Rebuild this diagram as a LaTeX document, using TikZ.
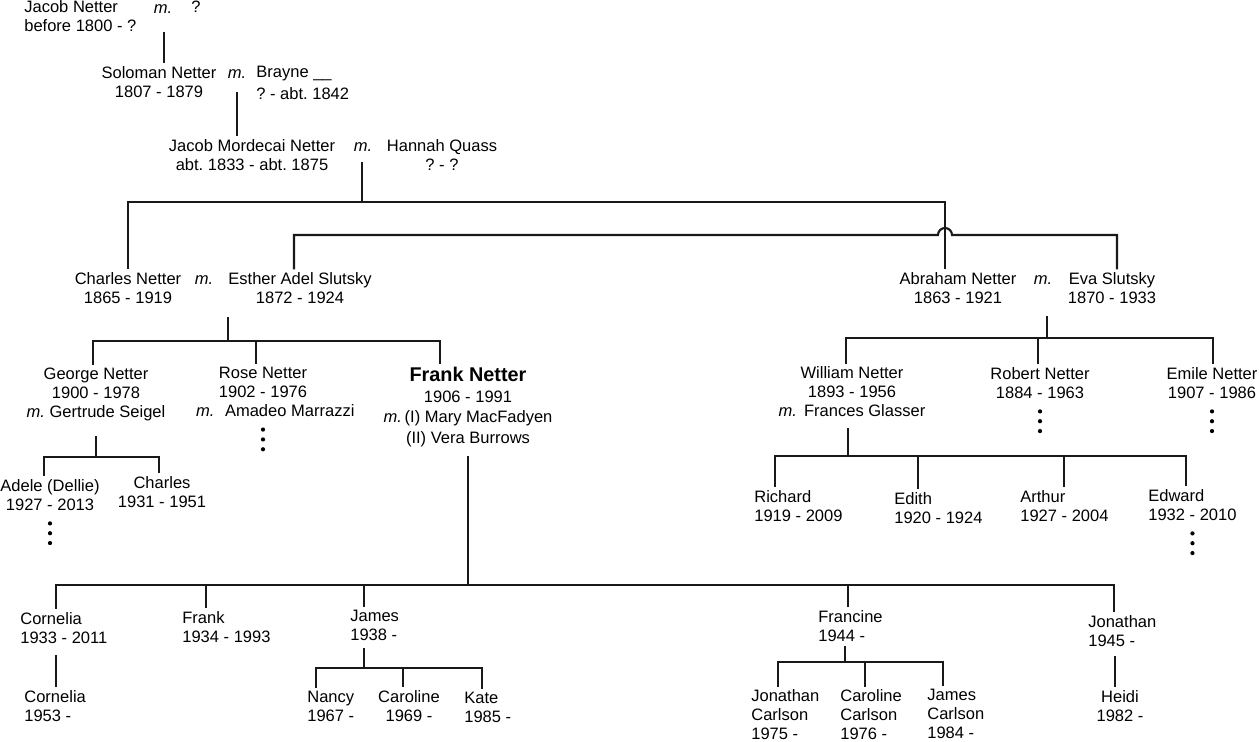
\documentclass[tikz,border=0pt]{standalone}
\usepackage{fontspec}
\setmainfont{Liberation Sans}
\frenchspacing

\begin{document}
\begin{tikzpicture}[
  x=0.2mm,y=-0.2mm,
  person/.style={inner sep=1.5pt, align=center, font=\fontsize{9.4}{10.8}\selectfont},
  lperson/.style={person, align=left, anchor=west, xshift=-1.5pt},
  wed/.style={inner sep=1pt, font=\fontsize{9.4}{10.8}\selectfont\itshape},
  link/.style={line width=1.2pt, draw=black!90}
]
\useasboundingbox (0,0) rectangle (1259,741);

% first three generations
\node[lperson] (jacob) at (24,16) {Jacob Netter\\before 1800 - ?};
\node[wed] (m1) at (163,9) {m.};
\node[person] (unknown) at (196,7) {?};
\node[person] (soloman) at (159,82) {Soloman Netter\\1807 - 1879};
\node[wed] (m2) at (237,74) {m.};
\node[lperson] (brayne) at (256,83) {Brayne \_\_\\[2pt]? - abt. 1842};
\node[person] (jmn) at (252,155) {Jacob Mordecai Netter\\abt. 1833 - abt. 1875};
\node[wed] (m3) at (363,147) {m.};
\node[person] (hannah) at (442,155) {Hannah Quass\\? - ?};

% the two brothers
\node[person] (charles) at (128,288) {Charles Netter\\1865 - 1919};
\node[wed] (m4) at (204,280) {m.};
\node[person] (esther) at (300,288) {Esther Adel Slutsky\\1872 - 1924};
\node[person] (abraham) at (958,288) {Abraham Netter\\1863 - 1921};
\node[wed] (m5) at (1043,280) {m.};
\node[person] (eva) at (1112,288) {Eva Slutsky\\1870 - 1933};

% children of Charles and Esther
\node[person] (george) at (96,394) {George Netter\\1900 - 1978\\\textit{m.} Gertrude Seigel};
\node[person] (rose) at (263,392) {Rose Netter\\1902 - 1976\\\hspace*{14pt}\textit{m.}\hspace{6pt}Amadeo Marrazzi};
\node[person] (frank) at (468,407) {{\fontsize{11.3}{13}\selectfont\bfseries Frank Netter}\\[1pt]1906 - 1991\\[1pt]\textit{m.}\,(I) Mary MacFadyen\\[1pt](II) Vera Burrows};
\node[person] (adele) at (50,495) {Adele (Dellie)\\1927 - 2013};
\node[person] (charlesjr) at (162,492) {Charles\\1931 - 1951};

% children of Abraham and Eva
\node[person] (william) at (852,392) {William Netter\\1893 - 1956\\\textit{m.}\hspace{4pt}Frances Glasser};
\node[person] (robert) at (1040,383) {Robert Netter\\1884 - 1963};
\node[person] (emile) at (1212,383) {Emile Netter\\1907 - 1986};
\node[lperson] (richard) at (754,506) {Richard\\1919 - 2009};
\node[lperson] (edith) at (894,508) {Edith\\1920 - 1924};
\node[lperson] (arthur) at (1020,506) {Arthur\\1927 - 2004};
\node[lperson] (edward) at (1148,505) {Edward\\1932 - 2010};

% children of Frank
\node[lperson] (cornelia) at (20,628) {Cornelia\\1933 - 2011};
\node[lperson] (frankjr) at (182,627) {Frank\\1934 - 1993};
\node[lperson] (james) at (350,625) {James\\1938 -};
\node[lperson] (francine) at (818,626) {Francine\\1944 -};
\node[lperson] (jonathan) at (1088,631) {Jonathan\\1945 -};

% grandchildren of Frank
\node[lperson] (cornelia2) at (24,706) {Cornelia\\1953 -};
\node[lperson] (nancy) at (307,706) {Nancy\\1967 -};
\node[person] (caroline) at (409,706) {Caroline\\1969 -};
\node[lperson] (kate) at (464,707) {Kate\\1985 -};
\node[lperson] (jcarlson) at (751,715) {Jonathan\\Carlson\\1975 -};
\node[lperson] (ccarlson) at (840,715) {Caroline\\Carlson\\1976 -};
\node[lperson] (jacarlson) at (927,714) {James\\Carlson\\1984 -};
\node[person] (heidi) at (1120,706) {Heidi\\1982 -};

% drop points below each couple
\coordinate (d1) at (164,32);
\coordinate (d2) at (237,92);
\coordinate (d3) at (362,162);
\coordinate (d4) at (228,317);
\coordinate (d5) at (96,436);
\coordinate (d6) at (1047,316);
\coordinate (d7) at (848,428);
\coordinate (d8) at (468,456);
\coordinate (d9) at (56,655);
\coordinate (d10) at (364,648);
\coordinate (d11) at (845,646);
\coordinate (d12) at (1115,656);

\draw[link] (d1) -- (d1 |- soloman.north);
\draw[link] (d2) -- (d2 |- jmn.north);
\draw[link] (d3) -- ++(0,40) coordinate (b3);
\draw[link] (b3) -| (charles.north);
\draw[link] (b3) -| (945,0 |- abraham.north);
% sisters Esther and Eva, hopping over the line to Abraham
\draw[link] (294,0 |- esther.north) |- (938,235) arc[start angle=180, end angle=360, radius=7] -| (1117,0 |- eva.north);

\draw[link] (d4) -- ++(0,24) coordinate (b4);
\foreach \c/\x in {george/93, rose/256, frank/440}
  \draw[link] (b4) -| (\x,0 |- \c.north);
\draw[link] (d5) -- ++(0,21) coordinate (b5);
\foreach \c/\x in {adele/44, charlesjr/159}
  \draw[link] (b5) -| (\x,0 |- \c.north);
\draw[link] (d6) -- ++(0,22) coordinate (b6);
\foreach \c/\x in {william/846, robert/1038, emile/1213}
  \draw[link] (b6) -| (\x,0 |- \c.north);
\draw[link] (d7) -- ++(0,28) coordinate (b7);
\foreach \c/\x in {richard/775, edith/918, arthur/1064, edward/1186}
  \draw[link] (b7) -| (\x,0 |- \c.north);
\draw[link] (d8) -- ++(0,129) coordinate (b8);
\foreach \c/\x in {cornelia/56, frankjr/206, james/364, francine/848, jonathan/1114}
  \draw[link] (b8) -| (\x,0 |- \c.north);
\draw[link] (d9) -- (d9 |- cornelia2.north);
\draw[link] (d10) -- ++(0,20) coordinate (b10);
\foreach \c/\x in {nancy/316, caroline/403, kate/482}
  \draw[link] (b10) -| (\x,0 |- \c.north);
\draw[link] (d11) -- ++(0,16) coordinate (b11);
\foreach \c/\x in {jcarlson/778, ccarlson/865, jacarlson/943}
  \draw[link] (b11) -| (\x,0 |- \c.north);
\draw[link] (d12) -- (d12 |- heidi.north);

% more descendants not shown
\foreach \n in {rose, adele, robert, emile, edward}
  \foreach \d in {1,2,3}
    \fill ([yshift=-\d*5.6pt]\n.south) circle (1.2pt);
\end{tikzpicture}
\end{document}
